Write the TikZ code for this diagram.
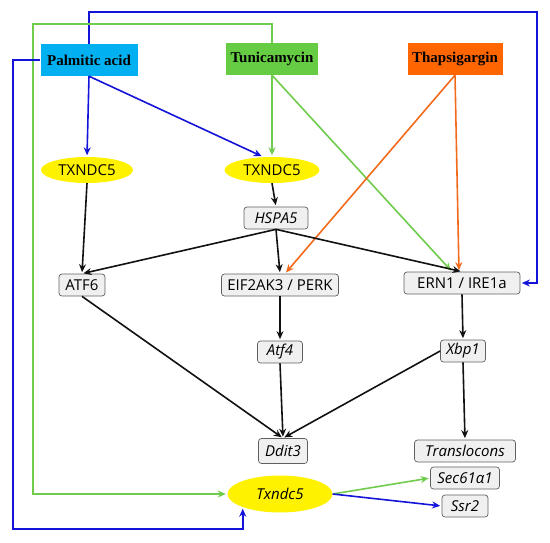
\documentclass[tikz,border=0pt]{standalone}
\usepackage{fontspec}
\setmainfont{Open Sans}
\newfontfamily\agentfont{Liberation Serif}
\usetikzlibrary{arrows.meta,shapes.geometric}
\definecolor{cPalm}{HTML}{00B0F0}
\definecolor{cTuni}{HTML}{66CC44}
\definecolor{cThap}{HTML}{FF6600}
\definecolor{cBlue}{HTML}{1414D8}
\definecolor{cGreen}{HTML}{70CC4C}
\definecolor{cOrange}{HTML}{F26B1D}
\definecolor{cInk}{HTML}{111111}
\definecolor{cBox}{HTML}{F0F0F0}
\definecolor{cEdge}{HTML}{606060}
\tikzset{
  agent/.style={draw=none, font=\agentfont\bfseries\fontsize{15}{18}\selectfont, minimum height=32pt, inner sep=3pt},
  gene/.style={rounded corners=3pt, draw=cEdge, line width=0.7pt, fill=cBox, font=\fontsize{15}{18}\selectfont, minimum height=22pt, inner sep=2pt},
  blob/.style={ellipse, fill=yellow, draw=none, font=\fontsize{15}{18}\selectfont, inner sep=0pt},
  flow/.style={-{Stealth[length=8pt,width=7pt]}, line width=1.6pt, draw=#1, shorten >=1.5pt},
  flow/.default=cInk,
}

\begin{document}
\begin{tikzpicture}[x=1pt,y=-1pt]
\useasboundingbox (0,0) rectangle (550,542);
\node[agent, fill=cPalm, minimum width=97pt] (pa) at (89,60) {Palmitic acid};
\node[agent, fill=cTuni, minimum width=92pt] (tu) at (272,59) {Tunicamycin};
\node[agent, fill=cThap, minimum width=95pt] (th) at (455,59) {Thapsigargin};
\node[blob, minimum width=92pt, minimum height=26pt] (tx1) at (87,170) {TXNDC5};
\node[blob, minimum width=95pt, minimum height=26pt] (tx2) at (272,170) {TXNDC5};
\node[gene, minimum width=64pt] (hspa) at (276,218) {\itshape HSPA5};
\node[gene, minimum width=46pt] (atf6) at (82,285) {ATF6};
\node[gene, minimum width=117pt] (eif) at (280,285) {EIF2AK3 / PERK};
\node[gene, minimum width=116pt] (ern) at (462,283) {ERN1 / IRE1a};
\node[gene, minimum width=45pt] (atf4) at (280,352) {\itshape Atf4};
\node[gene, minimum width=45pt] (xbp) at (463,351) {\itshape Xbp1};
\node[gene, minimum width=49pt, minimum height=25pt] (ddit) at (283,451) {\itshape Ddit3};
\node[gene, minimum width=101pt] (trans) at (465,451) {\itshape Translocons};
\node[gene, minimum width=69pt] (sec) at (465,478) {\itshape Sec61α1};
\node[gene, minimum width=46pt] (ssr) at (465,506) {\itshape Ssr2};
\node[blob, minimum width=105pt, minimum height=37pt] (tx3) at (280,494) {\itshape Txndc5};
\coordinate (btop) at (537,12);
\coordinate (gtop) at (33,24);
\coordinate (bbot) at (13,529);
\draw[flow=cBlue] (pa.south) -- (tx1.north);
\draw[flow=cBlue] (pa.south) -- ([xshift=-9pt]tx2.north);
\draw[flow=cGreen] (tu.south) -- (tx2.north);
\draw[flow=cGreen] (tu.south) -- ([xshift=-10pt]ern.north);
\draw[flow=cOrange] (th.south) -- ([xshift=5pt]eif.north);
\draw[flow=cOrange] (th.south) -- ([xshift=-3pt]ern.north);
\draw[flow=cBlue] (pa.north) |- (btop) |- (ern.east);
\draw[flow=cGreen] (tu.north) |- (gtop) |- (tx3.west);
\draw[flow=cBlue] (pa.west) -| (bbot) -| (tx3.south west);
\draw[flow=cGreen] (tx3.east) -- (sec.west);
\draw[flow=cBlue] (tx3.east) -- (ssr.west);
\foreach \a/\b in {tx1/atf6, tx2/hspa, hspa/atf6, hspa/eif, hspa/ern, atf6/ddit, eif/atf4, atf4/ddit, ern/xbp, xbp/trans}
  \draw[flow] (\a.south) -- (\b.north);
\draw[flow] (xbp.west) -- (ddit.north);
\end{tikzpicture}
\end{document}
